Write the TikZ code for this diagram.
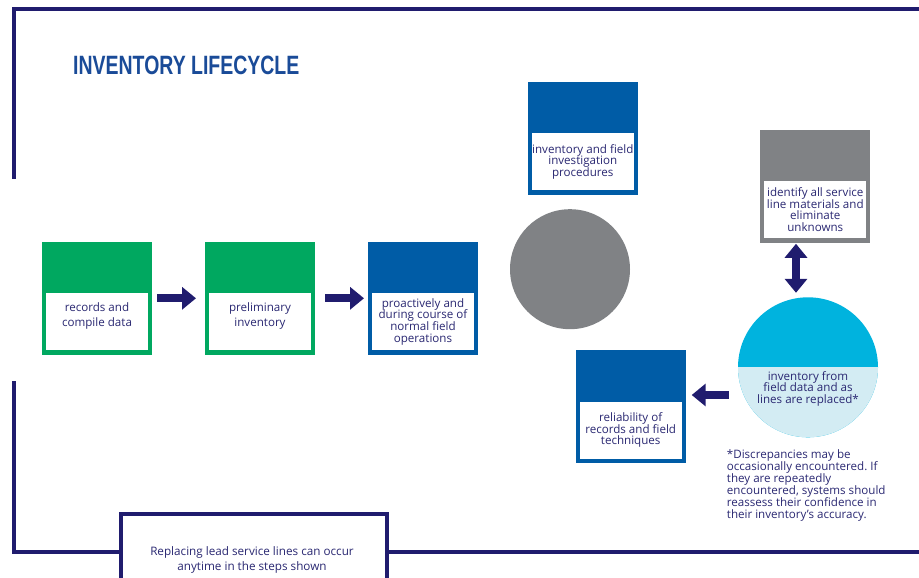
\documentclass[tikz,border=0pt]{standalone}
\usepackage{fontspec}
\usepackage{graphicx}
\setmainfont{Open Sans}
\newfontfamily\titlefont{Liberation Sans}
\usetikzlibrary{arrows.meta}
\frenchspacing

\definecolor{navy}{HTML}{201C6E}
\definecolor{inktext}{HTML}{2A2872}
\definecolor{titleblue}{HTML}{1A4B98}
\definecolor{stepgreen}{HTML}{00A860}
\definecolor{stepblue}{HTML}{005CA6}
\definecolor{stepgray}{HTML}{808285}
\definecolor{cyantop}{HTML}{00B3DE}
\definecolor{cyanlow}{HTML}{D3ECF3}

\tikzset{
  frame/.style={draw=navy, line width=4pt},
  stepbox/.style={fill=#1, minimum width=110pt, minimum height=113pt, inner sep=0pt, outer sep=0pt},
  whitebox/.style={fill=white, minimum width=102pt, minimum height=57pt, inner sep=0pt, outer sep=0pt},
  steptext/.style={text=inktext, font=\fontsize{11.6}{11.7}\selectfont, align=center, inner sep=0pt},
  blockarrow/.style={draw=navy, line width=8pt, -{Triangle[length=14pt,width=22pt]}},
  dblarrow/.style={draw=navy, line width=8pt, {Triangle[length=14pt,width=22pt]}-{Triangle[length=14pt,width=22pt]}},
}

\begin{document}
\begin{tikzpicture}[x=1pt, y=-1pt]
\useasboundingbox (0,0) rectangle (919,578);

% title
\node[anchor=base west, inner sep=0pt, text=titleblue] (title) at (73,75)
  {\scalebox{0.735}[1]{\titlefont\fontsize{26.5}{26.5}\selectfont\bfseries INVENTORY LIFECYCLE}};

% note box at the bottom edge
\node[draw=navy, line width=4pt, fill=white, minimum width=266pt, minimum height=100pt,
      anchor=north west, inner sep=0pt] (note) at (119,512) {};
\node[text=inktext, font=\fontsize{11.7}{15}\selectfont, align=center, inner sep=0pt] (notetext) at (252,559.5)
  {Replacing lead service lines can occur\\anytime in the steps shown};

% outer frame
\coordinate (lowline) at (0,551.7);
\draw[frame] (919,9.5) -- (14,9.5) -- (14,179);
\draw[frame] (14,381) -- (14,551.7) -- (note.west |- lowline);
\draw[frame] (note.east |- lowline) -- (919,551.7);

% step 1
\node[stepbox=stepgreen] (s1) at (97,298.3) {};
\node[whitebox] (s1in) at ([yshift=-23.5pt]s1.center) {};
\node[steptext, font=\fontsize{11.6}{15.6}\selectfont] (s1txt) at ([yshift=6pt]s1in.center) {records and\\compile data};

% step 2
\node[stepbox=stepgreen] (s2) at (260,298.3) {};
\node[whitebox] (s2in) at ([yshift=-23.5pt]s2.center) {};
\node[steptext, font=\fontsize{11.6}{15.6}\selectfont] (s2txt) at ([yshift=6pt]s2in.center) {preliminary\\inventory};

% step 3
\node[stepbox=stepblue] (s3) at (423,298.3) {};
\node[whitebox] (s3in) at ([yshift=-23.5pt]s3.center) {};
\node[steptext] (s3txt) at (s3in.center) {proactively and\\during course of\\normal field\\operations};

% step 4 (top)
\node[stepbox=stepblue] (s4) at (582.8,138.3) {};
\node[whitebox] (s4in) at ([yshift=-23.5pt]s4.center) {};
\node[steptext] (s4txt) at (s4in.center) {inventory and field\\investigation\\procedures};

% gray circle
\node[circle, fill=stepgray, minimum size=120pt, inner sep=0pt] (hub) at (570,269.2) {};

% gray goal box
\node[stepbox=stepgray] (s5) at (815.3,186) {};
\node[whitebox] (s5in) at ([yshift=-23.5pt]s5.center) {};
\node[steptext] (s5txt) at (s5in.center) {identify all service\\line materials and\\eliminate\\unknowns};

% split circle
\node[circle, fill=cyantop, minimum size=140pt, inner sep=0pt,
      path picture={\fill[cyanlow] (path picture bounding box.west) rectangle (path picture bounding box.south east);}]
  (field) at (808,367.3) {};
\node[steptext] (fieldtxt) at (808,388.7) {inventory from\\field data and as\\lines are replaced*};

% reliability box
\node[stepbox=stepblue] (s6) at (630.7,406.7) {};
\node[whitebox] (s6in) at ([yshift=-23.5pt]s6.center) {};
\node[steptext] (s6txt) at (s6in.center) {reliability of\\records and field\\techniques};

% footnote
\node[anchor=north west, text=inktext, font=\fontsize{11.6}{12.1}\selectfont, align=left, inner sep=0pt] (foot) at (726.7,449)
  {*Discrepancies may be\\occasionally encountered. If\\they are repeatedly\\encountered, systems should\\reassess their confidence in\\their inventory's accuracy.};

% connectors
\draw[blockarrow, shorten <=5pt, shorten >=9pt] (s1.east) -- (s2.west);
\draw[blockarrow, shorten <=10pt, shorten >=4pt] (s2.east) -- (s3.west);
\coordinate (dblx) at (796,0);
\draw[dblarrow, shorten <=1.3pt, shorten >=4.3pt] (s5.south -| dblx) -- (field.north -| dblx);
\coordinate (backrow) at (0,395);
\draw[blockarrow, shorten <=9pt, shorten >=6pt] (field.west |- backrow) -- (s6.east |- backrow);
\end{tikzpicture}
\end{document}
